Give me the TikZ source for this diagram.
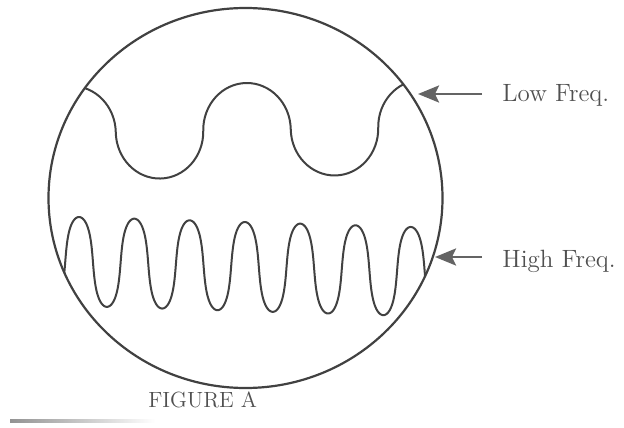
\documentclass[tikz,border=0pt]{standalone}
\usepackage{xcolor}
\usepackage{tikz}
\usetikzlibrary{arrows.meta, positioning}
\definecolor{ink}{RGB}{65,65,65}
\definecolor{pointer}{RGB}{100,100,100}
\definecolor{caption}{RGB}{80,80,80}

\begin{document}
\begin{tikzpicture}[
  x=0.5pt, y=-0.5pt,
  screen/.style={draw=ink, line width=1.1pt},
  trace/.style={draw=ink, line width=1pt},
  hump/.style={x radius=43.75, y radius=47},
  lbl/.style={inner sep=0pt, text=caption, font=\fontsize{12.5}{15}\selectfont},
  figlbl/.style={inner sep=0pt, text=caption, font=\fontsize{11}{13}\selectfont},
  arr/.style={-{Stealth[length=10.5pt, width=8.5pt, inset=2pt]}, draw=pointer,
              line width=1.3pt, shorten <=10pt}]

  \useasboundingbox (0,0) rectangle (624,427);

  % scope face
  \coordinate (ctr) at (245.5,198);
  \draw[screen] (ctr) ellipse [x radius=197, y radius=190];

  % the two traces, cut off at the rim
  \begin{scope}
    \clip (ctr) ellipse [x radius=197, y radius=190];
    \begin{scope}[rotate around={1:(247,130)}]
      \coordinate (lowstart) at (28.25,130);
      \draw[trace] (lowstart)
        foreach \k in {1,2} {arc[start angle=180, end angle=360, hump]
                             arc[start angle=180, end angle=0, hump]}
        arc[start angle=180, end angle=360, hump];
    \end{scope}
    \draw[trace, smooth] plot[domain=-23:23, samples=900, variable=\t]
      ({245+8.8*(\t+0.3*sin(2*\t r))},
       {266.5-44.5*cos(\t r)+0.03*8.8*(\t+0.3*sin(2*\t r))});
  \end{scope}

  % labels and pointers
  \coordinate (lowtip) at (418,94);
  \coordinate (hightip) at (435,257);
  \node[lbl, anchor=base west] (low) at (502,102) {Low Freq.};
  \node[lbl, anchor=base west] (high) at (502,267) {High Freq.};
  \draw[arr] (lowtip -| low.west) -- (lowtip);
  \draw[arr] (hightip -| high.west) -- (hightip);

  \node[figlbl, anchor=base west] (fig) at (148,407) {FIGURE A};

  % page edge
  \shade[left color=gray!85, right color=white] (10,419.5) rectangle (155,422.5);
\end{tikzpicture}
\end{document}
